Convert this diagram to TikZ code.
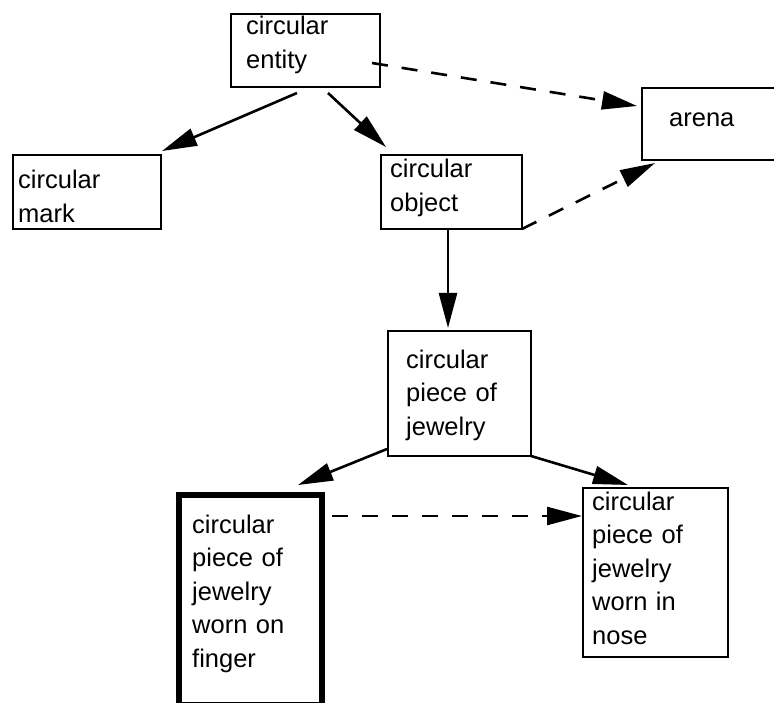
\documentclass[tikz,border=0pt]{standalone}
\usepackage{fontspec}
\setmainfont{Liberation Sans}
\usetikzlibrary{arrows.meta,calc}
\begin{document}
\begin{tikzpicture}[x=1pt,y=-1pt,
  box/.style={draw,line width=2.6pt,rectangle,anchor=north west,inner sep=0pt,outer sep=0pt},
  thickbox/.style={box,line width=5.5pt},
  txt/.style={anchor=base west,inner sep=0pt,align=left,text width=150pt,font=\fontsize{25.5}{33.5}\selectfont},
  conn/.style={line width=2.6pt,-{Triangle[length=35pt,width=18pt]}},
  dconn/.style={conn,dash pattern=on 16pt off 14pt}]
\clip (0,0) rectangle (774,703);
\fill[white] (0,0) rectangle (774,703);
% boxes
\node[box,minimum width=149pt,minimum height=73pt] (ent) at (231,14) {};
\node[box,minimum width=150pt,minimum height=72pt] (arena) at (642,88) {};
\node[box,minimum width=148pt,minimum height=74pt] (mark) at (13,155) {};
\node[box,minimum width=141pt,minimum height=74pt] (obj) at (381,155) {};
\node[box,minimum width=143pt,minimum height=125pt] (jew) at (388,331) {};
\node[thickbox,minimum width=143pt,minimum height=210pt] (fing) at (179,495) {};
\node[box,minimum width=145pt,minimum height=169pt] (nose) at (583,488) {};
% texts
\node[txt] (entT) at (246,35) {circular\\entity};
\node[txt] (arenaT) at (669,127) {arena};
\node[txt] (markT) at (18,189) {circular\\mark};
\node[txt] (objT) at (390,178) {circular\\object};
\node[txt] (jewT) at (406,368) {circular\\piece of\\jewelry};
\node[txt] (fingT) at (192,533) {circular\\piece of\\jewelry\\worn on\\finger};
\node[txt] (noseT) at (592,510) {circular\\piece of\\jewelry\\worn in\\nose};
% connectors
\draw[conn] ($(ent.south west)+(66,6)$) -- ($(mark.north east)+(1,-4)$);
\draw[conn] ($(ent.south west)+(97,6)$) -- ($(obj.north west)+(5,-8)$);
\draw[dconn] ($(ent.south east)+(-8,-24)$) -- ($(arena.north west)+(-5,18)$);
\draw[dconn] (obj.south east) -- ($(arena.south west)+(13,3)$);
\draw[conn] ($(obj.south west)+(67,0)$) -- ($(jew.north west)+(60,-3)$);
\draw[conn] ($(jew.south west)+(-1,-7)$) -- ($(fing.north west)+(119,-10)$);
\draw[conn] (jew.south east) -- ($(nose.north west)+(45,-3)$);
\draw[dconn] ($(fing.north east)+(10,21)$) -- ($(nose.north west)+(-1,28)$);
\end{tikzpicture}
\end{document}
